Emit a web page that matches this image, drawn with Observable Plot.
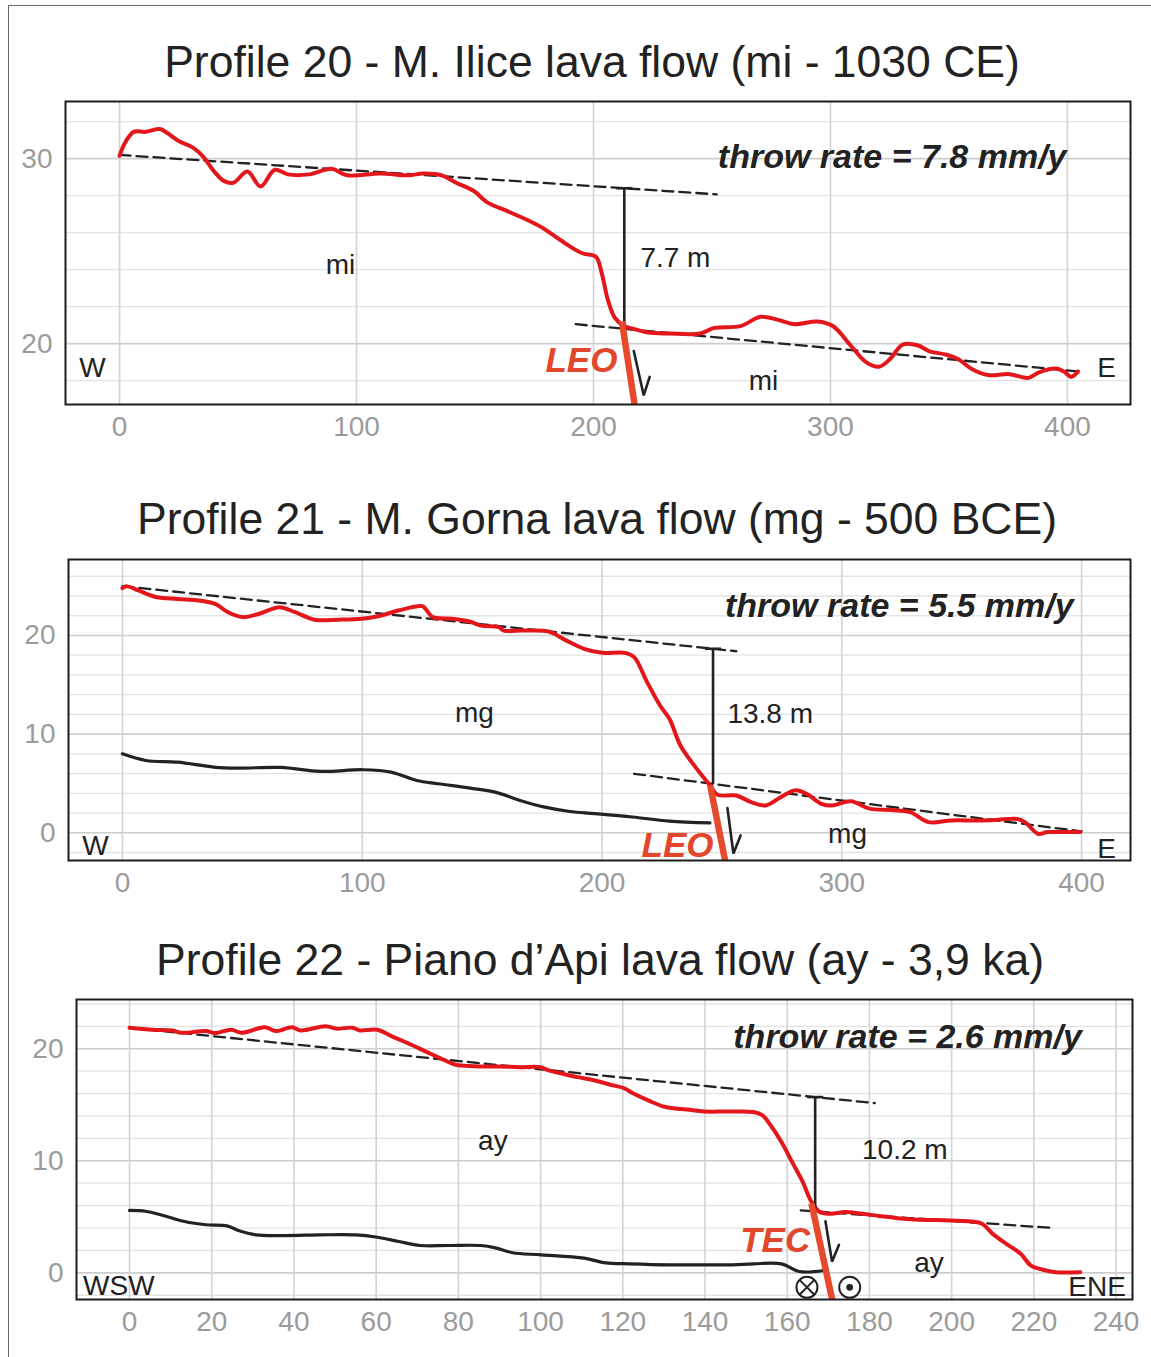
<!DOCTYPE html>
<html><head><meta charset="utf-8">
<script src="https://cdn.jsdelivr.net/npm/d3@7"></script>
<script src="https://cdn.jsdelivr.net/npm/@observablehq/plot@0.6"></script>
<style>
body{margin:0;background:#fff;}
#fig{position:relative;width:1151px;height:1357px;overflow:hidden;font-family:"Liberation Sans",Arial,sans-serif;background:#fff;}
.border{position:absolute;left:8px;top:5px;width:1300px;height:1500px;border-left:1.5px solid #6a6a6a;border-top:1.5px solid #6a6a6a;}
.title{position:absolute;width:1000px;text-align:center;font-size:44.5px;line-height:44.5px;color:#222;white-space:nowrap;}
.panel{position:absolute;left:0;}
</style></head><body><div id="fig"><div class="border"></div></div>
<script>
// ---------- titles ----------
const titles = [
  "Profile 20 - M. Ilice lava flow (mi - 1030 CE)",
  "Profile 21 - M. Gorna lava flow (mg - 500 BCE)",
  "Profile 22 - Piano d\u2019Api lava flow (ay - 3,9 ka)"
];

// ---------- Profile 20 data (distance m, elevation m) ----------
const red20 = [[0,30.15],[2.5,30.9],[6,31.45],[11,31.45],[17,31.6],[20,31.4],[25,30.95],[31,30.6],[35,30.15],[40,29.3],[44,28.8],[48,28.7],[54,29.3],[59.5,28.5],[65.5,29.4],[71,29.15],[80,29.15],[89.5,29.45],[96,29.1],[110,29.2],[122,29.1],[128,29.2],[136,29.1],[142,28.7],[149.5,28.25],[155,27.65],[163,27.2],[171,26.75],[178,26.3],[186,25.6],[195,24.9],[201,24.7],[203.5,23.8],[206,22.4],[209,21.4],[213,20.95],[217,20.8],[223,20.6],[232,20.55],[245,20.55],[251,20.85],[262,20.95],[270.5,21.45],[277.5,21.3],[285,21.05],[294.5,21.2],[301,20.95],[308.5,19.9],[315,19.0],[320.5,18.75],[325,19.15],[330.5,19.95],[337,19.9],[341.5,19.6],[349,19.4],[354,19.15],[360,18.6],[366.5,18.3],[375.5,18.35],[383.5,18.15],[388,18.45],[395,18.65],[399,18.45],[401.5,18.2],[404.5,18.5]];
const upper20 = [[0,30.2],[252,28.07]];
const lower20 = [[192.5,21.05],[404.5,18.5]];
const throw20 = [{x:213,top:28.4,bottom:20.85}];
const fault20 = [{x1:212,y1:21.2,x2:218.3,y2:15.9}];
const arrow20 = [[217,19.6],[221.2,17.2],[223.7,18.2]];
const labels20 = [{x:93.2,y:24.26,t:"mi"},{x:271.7,y:17.98,t:"mi"},{x:-11.4,y:18.68,t:"W"},{x:416.5,y:18.68,t:"E"}];
const offset20 = [{x:219.8,y:24.64,t:"7.7 m"}];
const faultName20 = [{x:210.1,y:19.06,t:"LEO"}];
const rate20 = [{x:399.6,y:30.1,t:"throw rate = 7.8 mm/y"}];

// ---------- Profile 21 data ----------
const red21 = [[0,24.8],[1.5,25.0],[6.7,24.56],[14,23.9],[23,23.7],[32,23.55],[38.7,23.2],[44,22.36],[50,21.86],[57,22.2],[65.4,22.87],[72,22.36],[80,21.6],[90,21.6],[100,21.7],[108,22.03],[115,22.53],[125,22.97],[126.4,22.7],[129.4,21.86],[137.5,21.7],[145,21.4],[149.5,21.0],[157,20.85],[159,20.5],[167,20.5],[177.7,20.4],[185,19.5],[192.5,18.65],[200,18.24],[209.6,18.24],[213.4,17.8],[218.8,15.27],[224.2,12.9],[228.1,11.55],[232.7,8.85],[237.4,7.16],[242.8,5.47],[245.1,4.8],[248.2,3.85],[256,3.78],[262.2,3.1],[268.3,2.77],[274.5,3.6],[280.7,4.3],[285.3,3.95],[291.5,2.94],[296,2.77],[303.8,3.2],[311.5,2.45],[320.8,2.3],[328.5,2.1],[336.2,1.08],[345.5,1.25],[356.3,1.25],[364,1.3],[373.3,1.4],[376.4,1.08],[381.8,-0.1],[385.7,0.07],[392,0.07],[399.5,0.07]];
const base21 = [[0,8.0],[9.7,7.33],[23,7.16],[38,6.66],[48,6.55],[66,6.62],[82.5,6.22],[100.4,6.39],[112,6.15],[122.7,5.3],[131.6,4.97],[145,4.53],[155.4,4.12],[165.8,3.28],[176.2,2.6],[186.6,2.16],[197,1.95],[212.7,1.6],[228,1.18],[245,1.0]];
const upper21 = [[0,25.0],[256,18.4]];
const lower21 = [[213.4,5.98],[400,0.14]];
const throw21 = [{x:246.3,top:18.65,bottom:4.95}];
const fault21 = [{x1:245.1,y1:4.8,x2:251.8,y2:-3.4}];
const arrow21 = [[252.3,2.5],[254.8,-2.1],[257.8,-0.27]];
const labels21 = [{x:146.8,y:12.1,t:"mg"},{x:302.4,y:-0.17,t:"mg"},{x:-11.3,y:-1.39,t:"W"},{x:410.4,y:-1.6,t:"E"}];
const offset21 = [{x:252.3,y:12.0,t:"13.8 m"}];
const faultName21 = [{x:246.5,y:-1.29,t:"LEO"}];
const rate21 = [{x:396.7,y:22.94,t:"throw rate = 5.5 mm/y"}];

// ---------- Profile 22 data ----------
const red22 = [[0,21.88],[5.6,21.7],[10.4,21.64],[12.6,21.43],[18.6,21.58],[20.8,21.4],[24.7,21.7],[27.3,21.43],[33,21.93],[35.6,21.58],[39.5,21.93],[41.6,21.64],[47.7,22.02],[50.3,21.8],[54.2,21.88],[56,21.64],[60.3,21.7],[63.7,21.13],[68,20.45],[72.4,19.7],[76.8,18.96],[79.4,18.57],[83.7,18.45],[90,18.42],[95,18.36],[100,18.36],[102,18.07],[105.4,17.77],[109,17.47],[113.2,17.17],[117,16.79],[120.2,16.5],[122.7,15.98],[126.2,15.39],[130.4,14.8],[135.6,14.58],[139.8,14.4],[145.8,14.4],[151.8,14.35],[154,14.05],[156,13.15],[158.6,11.67],[161.2,9.88],[163.8,8.1],[165.5,6.6],[166.8,5.86],[168,5.42],[170.6,5.27],[174,5.42],[178.3,5.27],[182.6,5.06],[186.8,4.88],[191,4.76],[199.7,4.67],[204.8,4.58],[207.4,4.38],[210,3.48],[213.3,2.59],[216.8,1.7],[219.3,0.65],[222,0.3],[225.3,0.06],[231.3,0.06]];
const base22 = [[0,5.57],[3.9,5.5],[8.2,5.12],[13.4,4.58],[18.6,4.29],[23.9,4.17],[26.5,3.78],[30.8,3.39],[37.7,3.33],[46.4,3.39],[55,3.39],[60.3,3.18],[65.5,2.8],[70.7,2.44],[77.6,2.44],[85.4,2.44],[89,2.23],[93.2,1.79],[100.2,1.61],[110.6,1.31],[115.8,0.89],[121.7,0.8],[131.3,0.71],[139.8,0.71],[146.7,0.71],[151.8,0.8],[158.6,0.8],[162.9,0.12],[168.9,0.21]];
const upper22 = [[0,21.88],[181.3,15.15]];
const lower22 = [[163.3,5.57],[224,4.02]];
const throw22 = [{x:166.8,top:15.69,bottom:5.7}];
const fault22 = [{x1:165.9,y1:6.2,x2:171.3,y2:-3.0}];
const arrow22 = [[169.3,4.6],[170.9,1.0],[172.6,2.5]];
const labels22 = [{x:88.4,y:11.8,t:"ay"},{x:194.5,y:0.92,t:"ay"}];
const startLabels22 = [{x:-11.3,y:-1.22,t:"WSW"},{x:178.2,y:10.92,t:"10.2 m"}];
const endLabels22 = [{x:242.4,y:-1.31,t:"ENE"}];
const faultName22 = [{x:165.6,y:2.88,t:"TEC"}];
const rate22 = [{x:231.7,y:21.0,t:"throw rate = 2.6 mm/y"}];
const intoPage22 = [{x:164.8,y:-1.29}];
const outOfPage22 = [{x:175.2,y:-1.29}];

// ---------- ticks ----------
const xTicks400 = [0,100,200,300,400];
const xTicks240 = [0,20,40,60,80,100,120,140,160,180,200,220,240];
const yMinor20 = [18,22,24,26,28,32];
const yMajor20 = [20,30];
const yMinor21 = [-2,2,4,6,8,12,14,16,18,22,24,26];
const yMinor22 = [-2,2,4,6,8,12,14,16,18,22,24];
const yMajor0 = [0,10,20];

// ---------- styling ----------
const INK = "#222", RED = "#e3161c", FAULT = "#e6492b", LRED = "#e2472b", GREY = "#9b9b9b";
const FONT = '"Liberation Sans", Arial, Helvetica, sans-serif';
// horizontal cap symbol for the throw bar
const capSymbol = {draw(ctx, size) { const r = Math.sqrt(size / Math.PI); ctx.moveTo(-r, 0); ctx.lineTo(r, 0); }};

function profile(o) {
  const m = [
    Plot.gridY(o.yMinor, {stroke: "#e3e3e3", strokeOpacity: 1, strokeWidth: 1.3}),
    Plot.gridY(o.yMajor, {stroke: "#cdcdcd", strokeOpacity: 1, strokeWidth: 1.6}),
    Plot.gridX(o.xTicks, {stroke: "#d3d3d3", strokeOpacity: 1, strokeWidth: 1.6}),
    Plot.axisX(o.xTicks, {tickSize: 0, tickPadding: 12, fontSize: 28, tickFormat: d => String(d)}),
    Plot.axisY(o.yMajor, {tickSize: 0, tickPadding: 13, fontSize: 28, tickFormat: d => String(d)}),
    Plot.line(o.upper, {stroke: INK, strokeWidth: 2.3, strokeDasharray: "11,6"}),
    Plot.line(o.lower, {stroke: INK, strokeWidth: 2.3, strokeDasharray: "11,6"})
  ];
  if (o.base) m.push(Plot.line(o.base, {stroke: INK, strokeWidth: 3.2, curve: "catmull-rom"}));
  m.push(
    Plot.line(o.red, {stroke: RED, strokeWidth: 4, curve: "catmull-rom"}),
    Plot.link(o.thr, {x1: "x", x2: "x", y1: "top", y2: "bottom", stroke: INK, strokeWidth: 2.6}),
    Plot.dot(o.thr, {x: "x", y: "top", symbol: capSymbol, r: 8, stroke: INK, strokeWidth: 2.6}),
    Plot.link(o.fault, {x1: "x1", y1: "y1", x2: "x2", y2: "y2", stroke: FAULT, strokeWidth: 6.5, clip: true}),
    Plot.line(o.arrow, {stroke: INK, strokeWidth: 2.6, strokeLinejoin: "miter"}),
    Plot.text(o.labels, {x: "x", y: "y", text: "t", fill: INK, fontSize: 28}),
    Plot.text(o.startLabels, {x: "x", y: "y", text: "t", fill: INK, fontSize: 28, textAnchor: "start"}),
    Plot.text(o.endLabels || [], {x: "x", y: "y", text: "t", fill: INK, fontSize: 28, textAnchor: "end"}),
    Plot.text(o.faultName, {x: "x", y: "y", text: "t", fill: LRED, fontSize: 35, fontWeight: "bold", fontStyle: "italic", textAnchor: "end"}),
    Plot.text(o.rate, {x: "x", y: "y", text: "t", fill: INK, fontSize: 34, fontWeight: "bold", fontStyle: "italic", textAnchor: "end"})
  );
  if (o.into) {
    m.push(
      Plot.dot(o.into.concat(o.out), {x: "x", y: "y", r: 10.5, stroke: INK, fill: "white", strokeWidth: 2}),
      Plot.dot(o.into, {x: "x", y: "y", r: 6.8, symbol: "times", stroke: INK, strokeWidth: 2}),
      Plot.dot(o.out, {x: "x", y: "y", r: 3.4, fill: INK, stroke: "none"})
    );
  }
  m.push(Plot.frame({stroke: "#1c1c1c", strokeWidth: 2}));
  return Plot.plot({
    width: 1151, height: o.height,
    marginTop: o.mt, marginBottom: o.mb, marginLeft: o.ml, marginRight: o.mr,
    style: {fontFamily: FONT, fontSize: "28px", color: GREY, background: "transparent", overflow: "visible"},
    x: {domain: o.xd, label: null},
    y: {domain: o.yd, label: null},
    marks: m
  });
}

const fig = document.getElementById("fig");
function place(node, top) { node.classList.add("panel"); node.style.top = top + "px"; fig.appendChild(node); }
function title(text, cx, top) {
  const d = document.createElement("div"); d.className = "title"; d.textContent = text;
  d.style.left = (cx - 500) + "px"; d.style.top = top + "px"; fig.appendChild(d);
}

title(titles[0], 592, 40);
place(profile({height: 354, mt: 11, mb: 40, ml: 65, mr: 21, xd: [-22.8, 426.6], yd: [16.71, 33.09],
  xTicks: xTicks400, yMinor: yMinor20, yMajor: yMajor20,
  red: red20, upper: upper20, lower: lower20, thr: throw20, fault: fault20, arrow: arrow20,
  labels: labels20, startLabels: offset20, faultName: faultName20, rate: rate20}), 90);

title(titles[1], 597, 497);
place(profile({height: 352, mt: 11, mb: 40, ml: 68, mr: 21, xd: [-22.5, 420.4], yd: [-2.81, 27.7],
  xTicks: xTicks400, yMinor: yMinor21, yMajor: yMajor0,
  red: red21, base: base21, upper: upper21, lower: lower21, thr: throw21, fault: fault21, arrow: arrow21,
  labels: labels21, startLabels: offset21, faultName: faultName21, rate: rate21}), 548);

title(titles[2], 600, 938);
place(profile({height: 356, mt: 11, mb: 45, ml: 76, mr: 19, xd: [-12.9, 244.0], yd: [-2.38, 24.4],
  xTicks: xTicks240, yMinor: yMinor22, yMajor: yMajor0,
  red: red22, base: base22, upper: upper22, lower: lower22, thr: throw22, fault: fault22, arrow: arrow22,
  labels: labels22, startLabels: startLabels22, endLabels: endLabels22, faultName: faultName22, rate: rate22,
  into: intoPage22, out: outOfPage22}), 988);
</script></body></html>
